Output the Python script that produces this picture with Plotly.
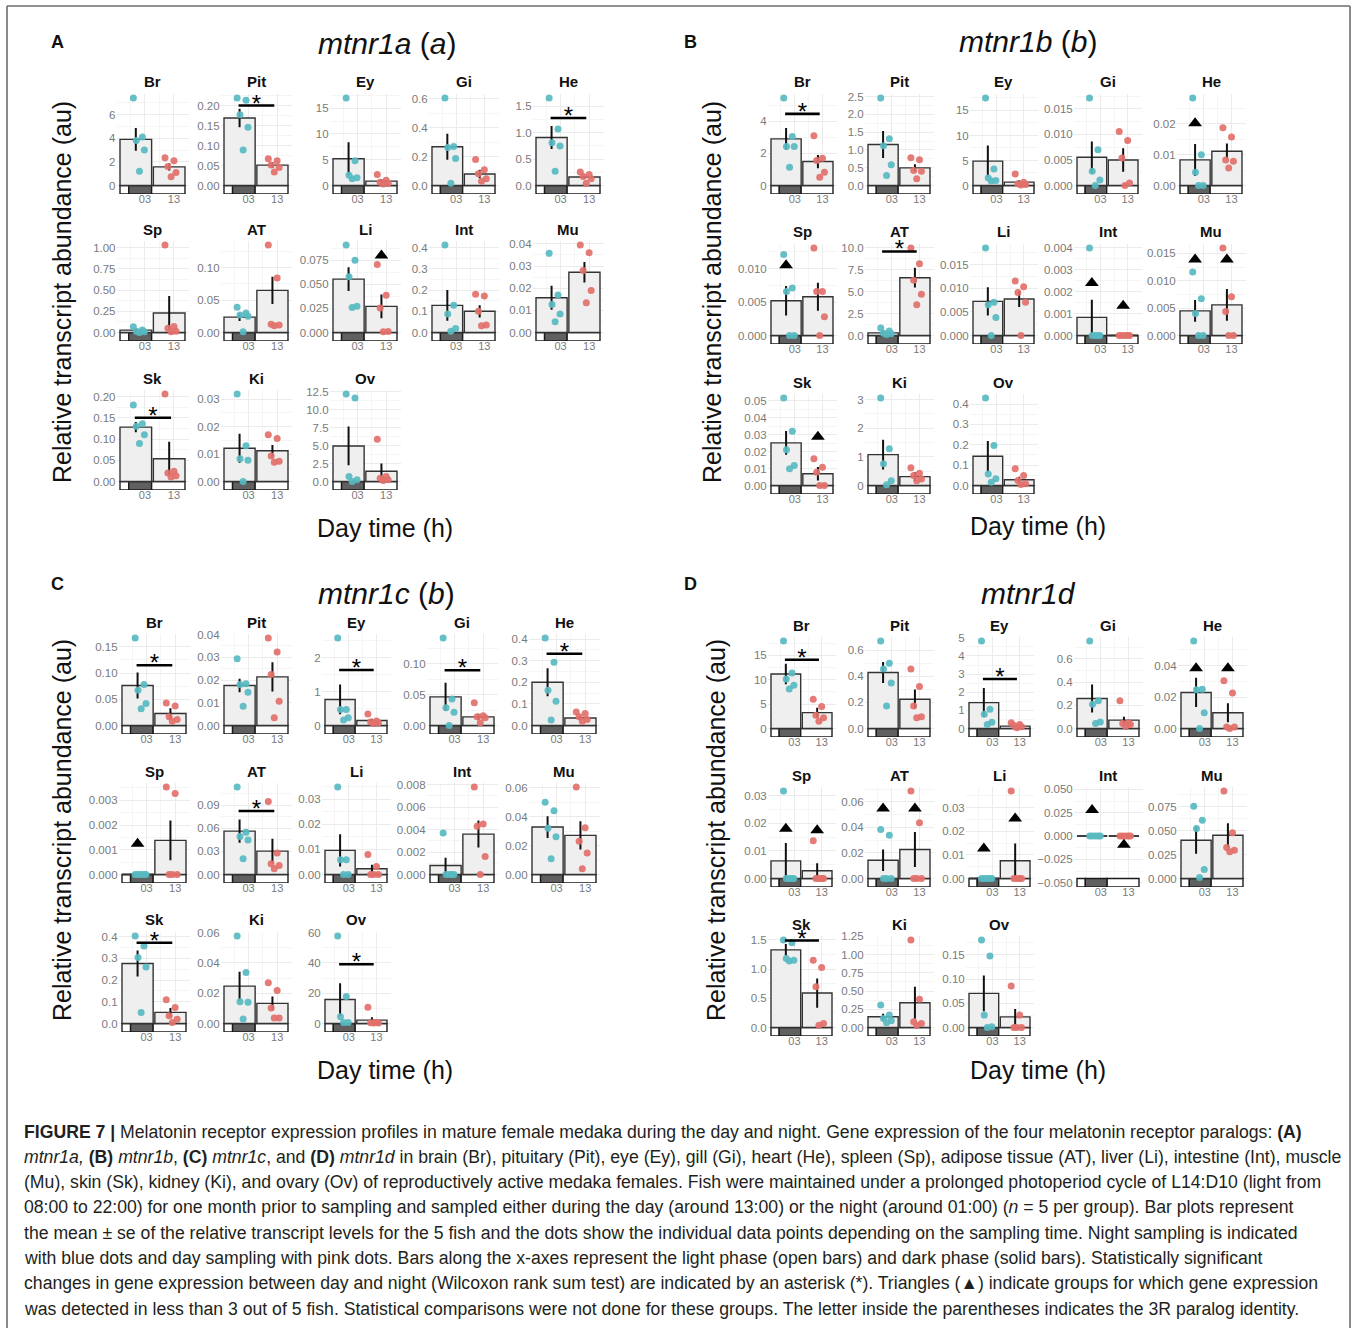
import plotly.graph_objects as go

W, H = 1357, 1328

TISSUES = ["Br", "Pit", "Ey", "Gi", "He", "Sp", "AT", "Li", "Int", "Mu", "Sk", "Ki", "Ov"]
X_TICKS = [3, 13]
X_TICK_TEXT = ["03", "13"]

# ---------------- Panel A : mtnr1a (a) ----------------
A_NIGHT_MEAN = [3.9, 0.169, 5.2, 0.269, 0.91, 0.028, 0.0237, 0.0555, 0.128, 0.0157, 0.128, 0.0121, 4.95]
A_NIGHT_SE = [0.96, 0.023, 3.2, 0.09, 0.22, 0.012, 0.006, 0.0124, 0.072, 0.0054, 0.012, 0.0053, 2.7]
A_DAY_MEAN = [1.57, 0.051, 0.85, 0.08, 0.16, 0.229, 0.065, 0.0272, 0.10, 0.0272, 0.0536, 0.0112, 1.42]
A_DAY_SE = [0.3, 0.007, 0.35, 0.03, 0.03, 0.2, 0.021, 0.0124, 0.029, 0.0046, 0.04, 0.0021, 1.1]
A_NIGHT_PTS = [[7.4, 4.1, 3.8, 3.0, 1.2], [0.219, 0.213, 0.177, 0.146, 0.089], [17.0, 4.8, 2.0, 1.5, 1.3],
               [0.607, 0.27, 0.264, 0.187, 0.016], [1.66, 1.07, 0.81, 0.75, 0.27], [0.068, 0.028, 0.016, 0.008, 0.0],
               [0.039, 0.030, 0.027, 0.025, 0.001], [0.091, 0.075, 0.058, 0.0272, 0.026], [0.413, 0.128, 0.087, 0.019, 0.006],
               [0.0357, 0.0169, 0.0126, 0.0083, 0.0049], [0.18, 0.136, 0.130, 0.11, 0.0896], [0.0319, 0.013, 0.0083, 0.0077, 0.0],
               [12.2, 11.65, 0.7, 0.24, 0.0]]
A_DAY_PTS = [[2.35, 2.1, 1.6, 1.1, 0.75], [0.067, 0.062, 0.051, 0.045, 0.034], [2.15, 1.0, 0.65, 0.45, 0.3],
             [0.18, 0.11, 0.082, 0.047, 0.03], [0.255, 0.21, 0.17, 0.13, 0.045], [1.03, 0.07, 0.05, 0.016, 0.008],
             [0.135, 0.084, 0.0126, 0.0116, 0.0105], [0.0707, 0.0386, 0.0255, 0.001, 0.0007], [0.18, 0.172, 0.10, 0.035, 0.032],
             [0.0395, 0.036, 0.028, 0.019, 0.0134], [0.206, 0.024, 0.02, 0.0136, 0.0104], [0.017, 0.0157, 0.0093, 0.0074, 0.007],
             [5.9, 0.7, 0.47, 0.24, 0.14]]
A_YSTEP = [2, 0.05, 5, 0.2, 0.5, 0.25, 0.05, 0.025, 0.1, 0.01, 0.05, 0.01, 2.5]
A_YDEC = [0, 2, 0, 1, 1, 2, 2, 3, 1, 2, 2, 2, 1]
A_SIG = [None, 0.20, None, None, 1.28, None, None, None, None, None, 0.150, None, None]
A_TRI_NIGHT = [None] * 13
A_TRI_DAY = [None, None, None, None, None, None, None, 0.080, None, None, None, None, None]

# ---------------- Panel B : mtnr1b (b) ----------------
B_NIGHT_MEAN = [2.9, 1.15, 4.87, 0.00554, 0.0083, 0.0052, 0.3, 0.0072, 0.00083, 0.0045, 0.0251, 1.08, 0.144]
B_NIGHT_SE = [0.68, 0.38, 3.1, 0.0031, 0.0052, 0.0022, 0.15, 0.003, 0.0008, 0.002, 0.007, 0.52, 0.075]
B_DAY_MEAN = [1.49, 0.495, 0.67, 0.005, 0.0111, 0.0058, 6.6, 0.0077, 0.0, 0.0056, 0.0069, 0.31, 0.028]
B_DAY_SE = [0.41, 0.1, 0.4, 0.0023, 0.0025, 0.0021, 1.13, 0.0017, 0.0, 0.0029, 0.004, 0.15, 0.015]
B_NIGHT_PTS = [[5.45, 3.05, 2.42, 2.42, 1.14], [2.46, 1.31, 1.12, 0.58, 0.28], [17.5, 3.3, 1.5, 1.0, 0.9],
               [0.01715, 0.007, 0.0028, 0.0011, 0.0], [0.0284, 0.01, 0.0043, 0.0, 0.0], [0.0121, 0.0071, 0.0066, 0.0, 0.0],
               [0.87, 0.5, 0.26, 0.19, 0.1], [0.0185, 0.007, 0.0065, 0.0038, 0.0], [0.004, 0.0, 0.0, 0.0, 0.0],
               [0.0116, 0.0067, 0.004, 0.0, 0.0], [0.0516, 0.032, 0.021, 0.0118, 0.0098], [3.06, 1.28, 0.76, 0.17, 0.03],
               [0.43, 0.196, 0.057, 0.033, 0.016]]
B_DAY_PTS = [[3.1, 1.7, 1.55, 0.83, 0.52], [0.78, 0.72, 0.42, 0.40, 0.19], [2.3, 0.65, 0.33, 0.2, 0.1],
             [0.0106, 0.0088, 0.0054, 0.0005, 0.0], [0.0187, 0.0157, 0.0083, 0.0079, 0.0057], [0.0131, 0.0066, 0.0066, 0.0028, 0.0],
             [10.0, 8.2, 6.3, 4.7, 3.5], [0.0115, 0.0103, 0.0091, 0.007, 0.0], [0.0, 0.0, 0.0, 0.0, 0.0],
             [0.016, 0.0071, 0.0044, 0.0, 0.0], [0.0157, 0.0108, 0.0078, 0.0, 0.0], [0.62, 0.43, 0.35, 0.23, 0.17],
             [0.082, 0.049, 0.024, 0.008, 0.005]]
B_YSTEP = [2, 0.5, 5, 0.005, 0.01, 0.005, 2.5, 0.005, 0.001, 0.005, 0.01, 1, 0.1]
B_YDEC = [0, 1, 0, 3, 2, 3, 1, 3, 3, 3, 2, 0, 1]
B_SIG = [4.46, None, None, None, None, None, 9.6, None, None, None, None, None, None]
B_TRI_NIGHT = [None, None, None, None, 0.0202, 0.0105, None, None, 0.0024, 0.0139, None, None, None]
B_TRI_DAY = [None, None, None, None, None, None, None, None, 0.00136, 0.0139, 0.0288, None, None]

# ---------------- Panel C : mtnr1c (b) ----------------
C_NIGHT_MEAN = [0.0763, 0.0176, 0.77, 0.0465, 0.2, 0.0, 0.0565, 0.0096, 0.0008, 0.0328, 0.276, 0.0247, 15.8]
C_NIGHT_SE = [0.025, 0.003, 0.44, 0.023, 0.065, 0.0, 0.015, 0.0064, 0.0007, 0.0075, 0.06, 0.0095, 10.8]
C_DAY_MEAN = [0.0229, 0.0214, 0.15, 0.014, 0.035, 0.00138, 0.0304, 0.0023, 0.0036, 0.027, 0.051, 0.0133, 2.2]
C_DAY_SE = [0.01, 0.0064, 0.05, 0.005, 0.008, 0.0008, 0.016, 0.0016, 0.0012, 0.0098, 0.02, 0.0046, 2.0]
C_NIGHT_PTS = [[0.167, 0.078, 0.067, 0.042, 0.032], [0.0293, 0.0184, 0.018, 0.0146, 0.0085], [2.59, 0.47, 0.47, 0.23, 0.16],
               [0.142, 0.043, 0.0286, 0.0216, 0.0], [0.405, 0.292, 0.163, 0.112, 0.025], [0.0, 0.0, 0.0, 0.0, 0.0],
               [0.114, 0.055, 0.0496, 0.045, 0.0204], [0.0349, 0.0059, 0.0059, 0.0, 0.0], [0.0037, 0.0, 0.0, 0.0, 0.0],
               [0.05, 0.044, 0.032, 0.026, 0.0108], [0.403, 0.357, 0.304, 0.26, 0.051], [0.0578, 0.0336, 0.0144, 0.014, 0.0029],
               [57.8, 17.8, 4.4, 0.7, 0.7]]
C_DAY_PTS = [[0.043, 0.037, 0.0165, 0.0114, 0.008], [0.0385, 0.0323, 0.0224, 0.0107, 0.0034], [0.34, 0.13, 0.1, 0.08, 0.06],
             [0.037, 0.016, 0.014, 0.0124, 0.0043], [0.062, 0.055, 0.04, 0.028, 0.02], [0.00354, 0.00327, 0.0, 0.0, 0.0],
             [0.095, 0.028, 0.0139, 0.0117, 0.0074], [0.008, 0.0032, 0.0, 0.0, 0.0], [0.0078, 0.0045, 0.0043, 0.0016, 0.0],
             [0.0605, 0.0323, 0.023, 0.0148, 0.0039], [0.109, 0.074, 0.036, 0.02, 0.005], [0.0269, 0.0218, 0.0102, 0.0036, 0.0036],
             [10.7, 0.7, 0.5, 0.4, 0.4]]
C_YSTEP = [0.05, 0.01, 1, 0.05, 0.1, 0.001, 0.03, 0.01, 0.002, 0.02, 0.1, 0.02, 20]
C_YDEC = [2, 2, 0, 2, 1, 3, 2, 2, 3, 2, 1, 2, 0]
C_SIG = [0.115, None, 1.64, 0.0897, 0.332, None, 0.0826, None, None, None, 0.372, None, 39.1]
C_TRI_NIGHT = [None, None, None, None, None, 0.00124, None, None, None, None, None, None, None]
C_TRI_DAY = [None] * 13

# ---------------- Panel D : mtnr1d ----------------
D_NIGHT_MEAN = [11.2, 0.43, 1.43, 0.258, 0.0229, 0.0064, 0.0143, 0.0, 0.0, 0.0401, 1.33, 0.147, 0.0705]
D_NIGHT_SE = [2.1, 0.08, 0.8, 0.12, 0.0093, 0.0065, 0.0085, 0.0, 0.0, 0.0143, 0.1, 0.04, 0.037]
D_DAY_MEAN = [3.25, 0.225, 0.13, 0.072, 0.01, 0.0028, 0.0227, 0.0075, 0.0, 0.0453, 0.59, 0.34, 0.022]
D_DAY_SE = [1.0, 0.075, 0.05, 0.03, 0.006, 0.0027, 0.0137, 0.0073, 0.0, 0.0125, 0.25, 0.22, 0.016]
D_NIGHT_PTS = [[17.97, 11.4, 10.16, 8.9, 8.1], [0.672, 0.5, 0.457, 0.349, 0.173], [4.83, 1.06, 0.78, 0.35, 0.22],
               [0.754, 0.238, 0.209, 0.055, 0.043], [0.0556, 0.025, 0.0246, 0.01, 0.0], [0.0318, 0.0, 0.0, 0.0, 0.0],
               [0.0383, 0.0339, 0.0, 0.0, 0.0], [0.0, 0.0, 0.0, 0.0, 0.0], [0.0, 0.0, 0.0, 0.0, 0.0],
               [0.0757, 0.061, 0.0523, 0.0094, 0.001], [1.5, 1.45, 1.18, 1.15, 1.14], [0.308, 0.17, 0.124, 0.092, 0.064],
               [0.181, 0.148, 0.0256, 0.0014, 0.0]]
D_DAY_PTS = [[6.0, 4.5, 2.7, 2.2, 1.5], [0.457, 0.323, 0.173, 0.09, 0.083], [0.32, 0.22, 0.17, 0.09, 0.04],
             [0.238, 0.049, 0.043, 0.035, 0.02], [0.0304, 0.0225, 0.001, 0.001, 0.0], [0.0137, 0.0, 0.0, 0.0, 0.0],
             [0.0686, 0.0436, 0.0, 0.0, 0.0], [0.037, 0.0, 0.0, 0.0, 0.0], [0.0, 0.0, 0.0, 0.0, 0.0],
             [0.0917, 0.0478, 0.0324, 0.0296, 0.0279], [1.15, 1.03, 0.7, 0.07, 0.04], [1.2, 0.386, 0.078, 0.055, 0.03],
             [0.0857, 0.0256, 0.0, 0.0, 0.0]]
D_YSTEP = [5, 0.2, 1, 0.2, 0.02, 0.01, 0.02, 0.01, 0.025, 0.025, 0.5, 0.25, 0.05]
D_YDEC = [0, 1, 0, 1, 2, 2, 2, 2, 3, 3, 1, 2, 2]
D_SIG = [14.1, None, 2.73, None, None, None, None, None, None, None, 1.49, None, None]
D_TRI_NIGHT = [None, None, None, None, 0.0383, 0.0181, 0.0548, 0.0127, 0.028, None, None, None, None]
D_TRI_DAY = [None, None, None, None, 0.0383, 0.0175, 0.0548, 0.0254, -0.0094, None, None, None, None]

PANEL_TITLES = ["<i>mtnr1a</i> (<i>a</i>)", "<i>mtnr1b</i> (<i>b</i>)", "<i>mtnr1c</i> (<i>b</i>)", "<i>mtnr1d</i>"]
PANEL_LETTERS = ["A", "B", "C", "D"]
Y_LABEL = "Relative transcript abundance (au)"
X_LABEL = "Day time (h)"

CAPTION = [
    "<b>FIGURE 7 |</b> Melatonin receptor expression profiles in mature female medaka during the day and night. Gene expression of the four melatonin receptor paralogs: <b>(A)</b>",
    "<i>mtnr1a,</i> <b>(B)</b> <i>mtnr1b</i>, <b>(C)</b> <i>mtnr1c</i>, and <b>(D)</b> <i>mtnr1d</i> in brain (Br), pituitary (Pit), eye (Ey), gill (Gi), heart (He), spleen (Sp), adipose tissue (AT), liver (Li), intestine (Int), muscle",
    "(Mu), skin (Sk), kidney (Ki), and ovary (Ov) of reproductively active medaka females. Fish were maintained under a prolonged photoperiod cycle of L14:D10 (light from",
    "08:00 to 22:00) for one month prior to sampling and sampled either during the day (around 13:00) or the night (around 01:00) (<i>n</i> = 5 per group). Bar plots represent",
    "the mean \u00b1 se of the relative transcript levels for the 5 fish and the dots show the individual data points depending on the sampling time. Night sampling is indicated",
    "with blue dots and day sampling with pink dots. Bars along the x-axes represent the light phase (open bars) and dark phase (solid bars). Statistically significant",
    "changes in gene expression between day and night (Wilcoxon rank sum test) are indicated by an asterisk (*). Triangles (\u25b2) indicate groups for which gene expression",
    "was detected in less than 3 out of 5 fish. Statistical comparisons were not done for these groups. The letter inside the parentheses indicates the 3R paralog identity.",
]

PANELS = [
    dict(nm=A_NIGHT_MEAN, nse=A_NIGHT_SE, dm=A_DAY_MEAN, dse=A_DAY_SE, npts=A_NIGHT_PTS, dpts=A_DAY_PTS,
         step=A_YSTEP, dec=A_YDEC, sig=A_SIG, tn=A_TRI_NIGHT, td=A_TRI_DAY),
    dict(nm=B_NIGHT_MEAN, nse=B_NIGHT_SE, dm=B_DAY_MEAN, dse=B_DAY_SE, npts=B_NIGHT_PTS, dpts=B_DAY_PTS,
         step=B_YSTEP, dec=B_YDEC, sig=B_SIG, tn=B_TRI_NIGHT, td=B_TRI_DAY),
    dict(nm=C_NIGHT_MEAN, nse=C_NIGHT_SE, dm=C_DAY_MEAN, dse=C_DAY_SE, npts=C_NIGHT_PTS, dpts=C_DAY_PTS,
         step=C_YSTEP, dec=C_YDEC, sig=C_SIG, tn=C_TRI_NIGHT, td=C_TRI_DAY),
    dict(nm=D_NIGHT_MEAN, nse=D_NIGHT_SE, dm=D_DAY_MEAN, dse=D_DAY_SE, npts=D_NIGHT_PTS, dpts=D_DAY_PTS,
         step=D_YSTEP, dec=D_YDEC, sig=D_SIG, tn=D_TRI_NIGHT, td=D_TRI_DAY),
]

# ---------------- layout geometry (pixels) ----------------
COLS = [
    [(120, 185), (224, 288), (333, 397), (432, 495), (536, 600)],
    [(771, 833), (868, 930), (973, 1034), (1077, 1138), (1180, 1242)],
    [(122, 186), (224, 288), (325, 387), (430, 494), (532, 596)],
    [(771, 832), (868, 930), (969, 1030), (1077, 1139), (1181, 1243)],
]
ROWS = [[194, 341, 490], [194, 344, 494], [734, 883, 1032], [737, 887, 1036]]
TITLE_POS = [(387, 44), (1028, 41), (386, 593), (1028, 593)]
LETTER_POS = [(57, 42), (690, 42), (57, 584), (690, 584)]
YLAB_POS = [(62, 292), (712, 292), (62, 830), (716, 830)]
XLAB_POS = [(385, 528), (1038, 526), (385, 1070), (1038, 1070)]

BLUE = "#58BAC1"
RED = "#E2706A"
GRID = "#EBEBEB"
GRID_MINOR = "#F5F5F5"
TICK_COL = "#7A7A7A"
FONT = "Liberation Sans, Arial, Helvetica, sans-serif"

X_LO, X_HI = -6.8, 18.3
STRIP_L, STRIP_R, DARK_L, DARK_R = -5.6, 16.8, -2.6, 5.3
XN, XD, BW = -0.15, 11.35, 10.9
PN, PD = 0.6, 11.5
JITTER = [-1.6, 1.5, -0.6, 2.2, 0.5]
SIG_X0, SIG_X1 = -0.5, 12.0
STRIP_FRAC = 0.085
PANEL_H = 100


def fx(p):
    return p / W


def fy(p):
    return 1 - p / H


fig = go.Figure()
shapes = []
annotations = []
axes = {}
k = 0
for pi, P in enumerate(PANELS):
    for i, tissue in enumerate(TISSUES):
        k += 1
        r, c = divmod(i, 5)
        L, R = COLS[pi][c]
        sb = ROWS[pi][r]
        pph = (R - L) / (STRIP_R - STRIP_L)
        d0 = L - (STRIP_L - X_LO) * pph
        d1 = R + (X_HI - STRIP_R) * pph
        xa = "x" if k == 1 else f"x{k}"
        ya = "y" if k == 1 else f"y{k}"
        xkey = "xaxis" if k == 1 else f"xaxis{k}"
        ykey = "yaxis" if k == 1 else f"yaxis{k}"

        nm, nse, dm, dse = P["nm"][i], P["nse"][i], P["dm"][i], P["dse"][i]
        npts, dpts = P["npts"][i], P["dpts"][i]
        sig, tn, td = P["sig"][i], P["tn"][i], P["td"][i]
        vals = list(npts) + list(dpts) + [nm + nse, dm + dse]
        for v in (sig, tn, td):
            if v is not None:
                vals.append(v)
        top = max(vals)
        if top <= 0 or (max(npts + dpts) == 0 and nm == 0 and dm == 0):
            lo, hi = -0.0545, 0.0525
        else:
            hi = top * 1.045
            lo = -hi * STRIP_FRAC / (1 - STRIP_FRAC)
        strip_top = lo + STRIP_FRAC * (hi - lo)

        axes[xkey] = dict(domain=[fx(d0), fx(d1)], range=[X_LO, X_HI], anchor=ya,
                          tickmode="array", tickvals=X_TICKS, ticktext=X_TICK_TEXT,
                          showgrid=True, gridcolor=GRID, gridwidth=1, zeroline=False, showline=False,
                          ticks="", tickfont=dict(family=FONT, size=11, color=TICK_COL),
                          ticklabelstandoff=-3,
                          minor=dict(tickmode="array", tickvals=[-2, 8, 18], showgrid=True, gridcolor=GRID_MINOR),
                          fixedrange=True, automargin=False)
        axes[ykey] = dict(domain=[fy(sb), fy(sb - PANEL_H)], range=[lo, hi], anchor=xa,
                          tickmode="linear", tick0=0, dtick=P["step"][i], tickformat=f".{P['dec'][i]}f",
                          showgrid=True, gridcolor=GRID, gridwidth=1, zeroline=False, showline=False,
                          ticks="", tickfont=dict(family=FONT, size=11.5, color=TICK_COL),
                          minor=dict(tick0=0, dtick=P["step"][i] / 2, showgrid=True, gridcolor=GRID_MINOR),
                          fixedrange=True, automargin=False)

        # light / dark phase strip (drawn as bars below the zero line)
        fig.add_trace(go.Bar(x=[(STRIP_L + DARK_L) / 2, (DARK_L + DARK_R) / 2, (DARK_R + STRIP_R) / 2],
                             y=[strip_top - lo] * 3, base=[lo] * 3,
                             width=[DARK_L - STRIP_L, DARK_R - DARK_L, STRIP_R - DARK_R],
                             xaxis=xa, yaxis=ya,
                             marker=dict(color=["white", "#606060", "white"], line=dict(color="#1A1A1A", width=1.4)),
                             hoverinfo="skip"))

        # bars with se
        fig.add_trace(go.Bar(x=[XN, XD], y=[nm, dm], width=BW, xaxis=xa, yaxis=ya,
                             marker=dict(color="#EFEFEF", line=dict(color="#333333", width=1.4)),
                             error_y=dict(type="data", array=[nse, dse], color="#111111", thickness=2, width=0),
                             hoverinfo="skip"))
        for (m, xc) in [(nm, XN), (dm, XD)]:
            if m == 0:
                fig.add_trace(go.Scatter(x=[xc - BW / 2, xc + BW / 2], y=[0, 0], mode="lines",
                                         line=dict(color="#333333", width=1.6), xaxis=xa, yaxis=ya,
                                         hoverinfo="skip", cliponaxis=False))

        # individual data points
        fig.add_trace(go.Scatter(x=[PN + j for j in JITTER], y=npts, mode="markers", xaxis=xa, yaxis=ya,
                                 marker=dict(color=BLUE, size=7, opacity=0.92), cliponaxis=False, hoverinfo="skip"))
        fig.add_trace(go.Scatter(x=[PD + j for j in JITTER], y=dpts, mode="markers", xaxis=xa, yaxis=ya,
                                 marker=dict(color=RED, size=7, opacity=0.92), cliponaxis=False, hoverinfo="skip"))

        # triangles
        tx, ty = [], []
        if tn is not None:
            tx.append(XN); ty.append(tn)
        if td is not None:
            tx.append(XD); ty.append(td)
        if tx:
            fig.add_trace(go.Scatter(x=tx, y=ty, mode="markers", xaxis=xa, yaxis=ya,
                                     marker=dict(symbol="triangle-up", color="black", size=12),
                                     cliponaxis=False, hoverinfo="skip"))

        # significance
        if sig is not None:
            fig.add_trace(go.Scatter(x=[SIG_X0, SIG_X1], y=[sig, sig], mode="lines", xaxis=xa, yaxis=ya,
                                     line=dict(color="black", width=2.6), cliponaxis=False, hoverinfo="skip"))
            fig.add_trace(go.Scatter(x=[(SIG_X0 + SIG_X1) / 2], y=[sig], mode="text", text=["*"],
                                     textposition="middle center", xaxis=xa, yaxis=ya,
                                     textfont=dict(family=FONT, size=24, color="black"),
                                     cliponaxis=False, hoverinfo="skip"))

        # subplot title
        annotations.append(dict(text=f"<b>{tissue}</b>", x=fx((L + R) / 2), y=fy(sb - 112), xref="paper", yref="paper",
                                xanchor="center", yanchor="middle", showarrow=False,
                                font=dict(family=FONT, size=15, color="#111111")))

    # panel decorations
    tx_, ty_ = TITLE_POS[pi]
    annotations.append(dict(text=PANEL_TITLES[pi], x=fx(tx_), y=fy(ty_), xref="paper", yref="paper",
                            xanchor="center", yanchor="middle", showarrow=False,
                            font=dict(family=FONT, size=30, color="#111111")))
    lx, ly = LETTER_POS[pi]
    annotations.append(dict(text=f"<b>{PANEL_LETTERS[pi]}</b>", x=fx(lx), y=fy(ly), xref="paper", yref="paper",
                            xanchor="center", yanchor="middle", showarrow=False,
                            font=dict(family=FONT, size=18, color="#111111")))
    yx, yy = YLAB_POS[pi]
    annotations.append(dict(text=Y_LABEL, x=fx(yx), y=fy(yy), xref="paper", yref="paper", textangle=-90,
                            xanchor="center", yanchor="middle", showarrow=False,
                            font=dict(family=FONT, size=25, color="#111111")))
    xx, xy = XLAB_POS[pi]
    annotations.append(dict(text=X_LABEL, x=fx(xx), y=fy(xy), xref="paper", yref="paper",
                            xanchor="center", yanchor="middle", showarrow=False,
                            font=dict(family=FONT, size=25, color="#111111")))

# caption
for li, line in enumerate(CAPTION):
    annotations.append(dict(text=line, x=fx(22), y=fy(1131.5 + li * 25.3), xref="paper", yref="paper",
                            xanchor="left", yanchor="middle", showarrow=False, align="left",
                            font=dict(family=FONT, size=17.65, color="#231F20")))

# figure frame
for (x0, y0, x1, y1) in [(7, 6, 1350, 6), (7, 6, 7, 1340), (1350, 6, 1350, 1340)]:
    shapes.append(dict(type="line", xref="paper", yref="paper", x0=fx(x0), y0=fy(y0), x1=fx(x1), y1=fy(y1),
                       line=dict(color="#6E6E6E", width=1.6), layer="above"))

fig.update_layout(width=W, height=H, margin=dict(l=0, r=0, t=0, b=0, pad=0, autoexpand=False),
                  paper_bgcolor="white", plot_bgcolor="rgba(0,0,0,0)", showlegend=False,
                  barmode="overlay", shapes=shapes, annotations=annotations, **axes)

fig.write_html("out.html")
